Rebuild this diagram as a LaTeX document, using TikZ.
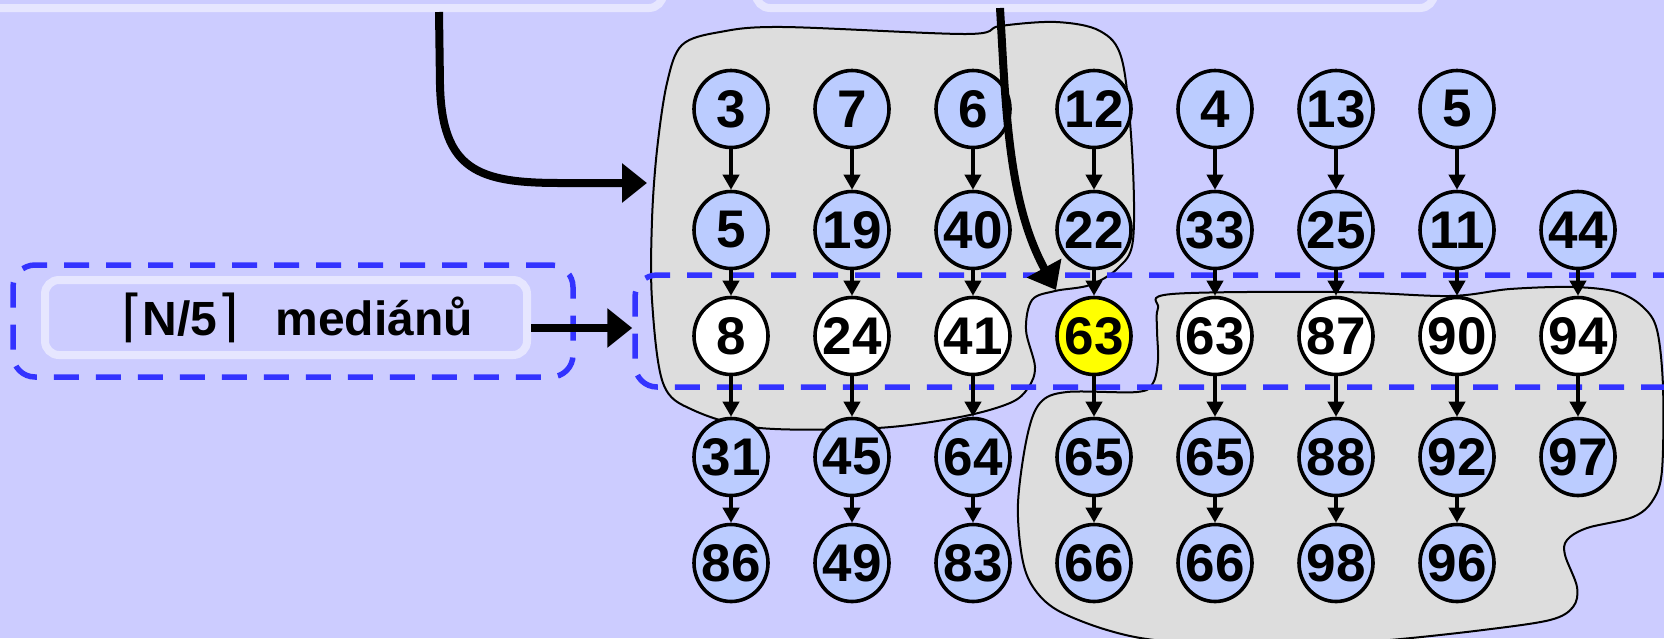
\documentclass[tikz,border=0pt]{standalone}
\usepackage{fontspec}
\setmainfont{Liberation Sans}
\newfontfamily\bracketfont{DejaVu Sans}
\usetikzlibrary{arrows.meta,shapes.geometric}
\definecolor{bgc}{HTML}{CCCCFF}
\definecolor{framec}{HTML}{E6E6FF}
\definecolor{blobc}{HTML}{DDDDDD}
\definecolor{numc}{HTML}{BBCCFF}
\definecolor{dashc}{HTML}{3333FF}
\definecolor{medc}{HTML}{FFFF00}
\newcommand\brk[1]{{\bracketfont\mdseries\fontsize{56}{56}\selectfont #1}}
\begin{document}
\begin{tikzpicture}[x=1pt,y=-1pt,
  num/.style={ellipse, draw, line width=3.6pt, minimum width=74pt, minimum height=77pt,
    inner sep=0pt, fill=numc, font=\fontsize{53}{53}\selectfont\bfseries},
  med/.style={num, fill=white},
  pivot/.style={num, fill=medc},
  link/.style={-{Triangle[length=15pt,width=16pt]}, line width=3.8pt},
  bigarrow/.style={-{Triangle[length=25pt,width=38pt]}, line width=8pt},
  blob/.style={fill=blobc, draw, line width=2pt},
  frame/.style={draw=framec, line width=8pt, rounded corners=14pt, inner sep=0pt},
  group/.style={draw=dashc, line width=5.5pt, dash pattern=on 25pt off 17pt,
    rounded corners=22pt, inner sep=0pt},
]
\useasboundingbox (0,0) rectangle (1664,638);
\fill[bgc] (0,0) rectangle (1664,638);

% frames at the top edge
\node[frame, minimum width=693pt, minimum height=88pt] (topA) at (316.5,-36) {};
\node[frame, minimum width=678pt, minimum height=88pt] (topB) at (1095,-36) {};

% grey regions
\draw[blob] plot[smooth cycle, tension=0.55] coordinates {
  (667,83) (682,45) (720,32) (783,27) (966,34) (1000,26) (1056,22) (1100,31)
  (1122,60) (1132,150) (1133,240) (1118,268) (1090,285) (1055,291) (1032,300)
  (1026,330) (1035,367) (1028,388) (1010,403) (960,417) (877,428) (760,428)
  (693,410) (663,383) (652,300) (652,220) (657,150)};
\draw[blob] plot[smooth cycle, tension=0.55] coordinates {
  (1157,330) (1158,308) (1172,294) (1339,292) (1449,296) (1510,289) (1573,287)
  (1617,292) (1643,307) (1657,330) (1663,387) (1662,470) (1653,500) (1633,517)
  (1587,528) (1567,540) (1565,555) (1577,587) (1573,607) (1550,620) (1483,630)
  (1390,640) (1280,648) (1163,641) (1107,630) (1057,610) (1033,587) (1022,557)
  (1018,503) (1027,437) (1040,403) (1067,392) (1137,392) (1153,383) (1158,360)};

% dashed groups
\node[group, minimum width=1065pt, minimum height=112pt] (rowbox) at (1167.5,331) {};
\node[group, minimum width=560pt, minimum height=112pt] (lgroup) at (293,321) {};
\node[frame, minimum width=482pt, minimum height=75pt] (lbox) at (286,317.5) {};
\node[anchor=base, font=\fontsize{48}{48}\selectfont\bfseries] (lbl) at (297,335)
  {\brk{⌈}N/5\brk{⌉}\hspace{36pt}mediánů};

% columns of numbers
\foreach \c/\v in {1/3,2/7,3/6,4/12,5/4,6/13,7/5}
  \node[num] (r1c\c) at ({731+121*(\c-1)},109) {\makebox[0pt]{\v}};
\foreach \c/\v in {1/5,2/19,3/40,4/22,5/33,6/25,7/11,8/44}
  \node[num] (r2c\c) at ({731+121*(\c-1)},230) {\makebox[0pt]{\v}};
\foreach \c/\v in {1/8,2/24,3/41,5/63,6/87,7/90,8/94}
  \node[med] (r3c\c) at ({731+121*(\c-1)},336) {\makebox[0pt]{\v}};
\node[pivot] (r3c4) at (1094,336) {\makebox[0pt]{63}};
\foreach \c/\v in {1/31,2/45,3/64,4/65,5/65,6/88,7/92,8/97}
  \node[num] (r4c\c) at ({731+121*(\c-1)},457) {\makebox[0pt]{\v}};
\foreach \c/\v in {1/86,2/49,3/83,4/66,5/66,6/98,7/96}
  \node[num] (r5c\c) at ({731+121*(\c-1)},563) {\makebox[0pt]{\v}};

\foreach \c in {1,...,7} \draw[link] (r1c\c) -- (r2c\c);
\foreach \c in {1,...,8} {
  \draw[link] (r2c\c) -- (r3c\c);
  \draw[link] (r3c\c) -- (r4c\c);
}
\foreach \c in {1,...,7} \draw[link] (r4c\c) -- (r5c\c);

% thick arrows
\coordinate (s1) at (439,12);
\coordinate (e1) at (647,183);
\coordinate (s2) at (1000,8);
\coordinate (e2) at (1056,290);
\coordinate (s3) at ([yshift=-10.5pt]lbox.east);
\draw[bigarrow] (s1) -- (440,85) .. controls (442,170) and (478,183) .. (560,183) -- (e1);
\draw[bigarrow] (s2) .. controls (1006,110) and (1008,202) .. (e2);
\draw[bigarrow] (s3) -- (s3 -| rowbox.west);
\end{tikzpicture}
\end{document}
